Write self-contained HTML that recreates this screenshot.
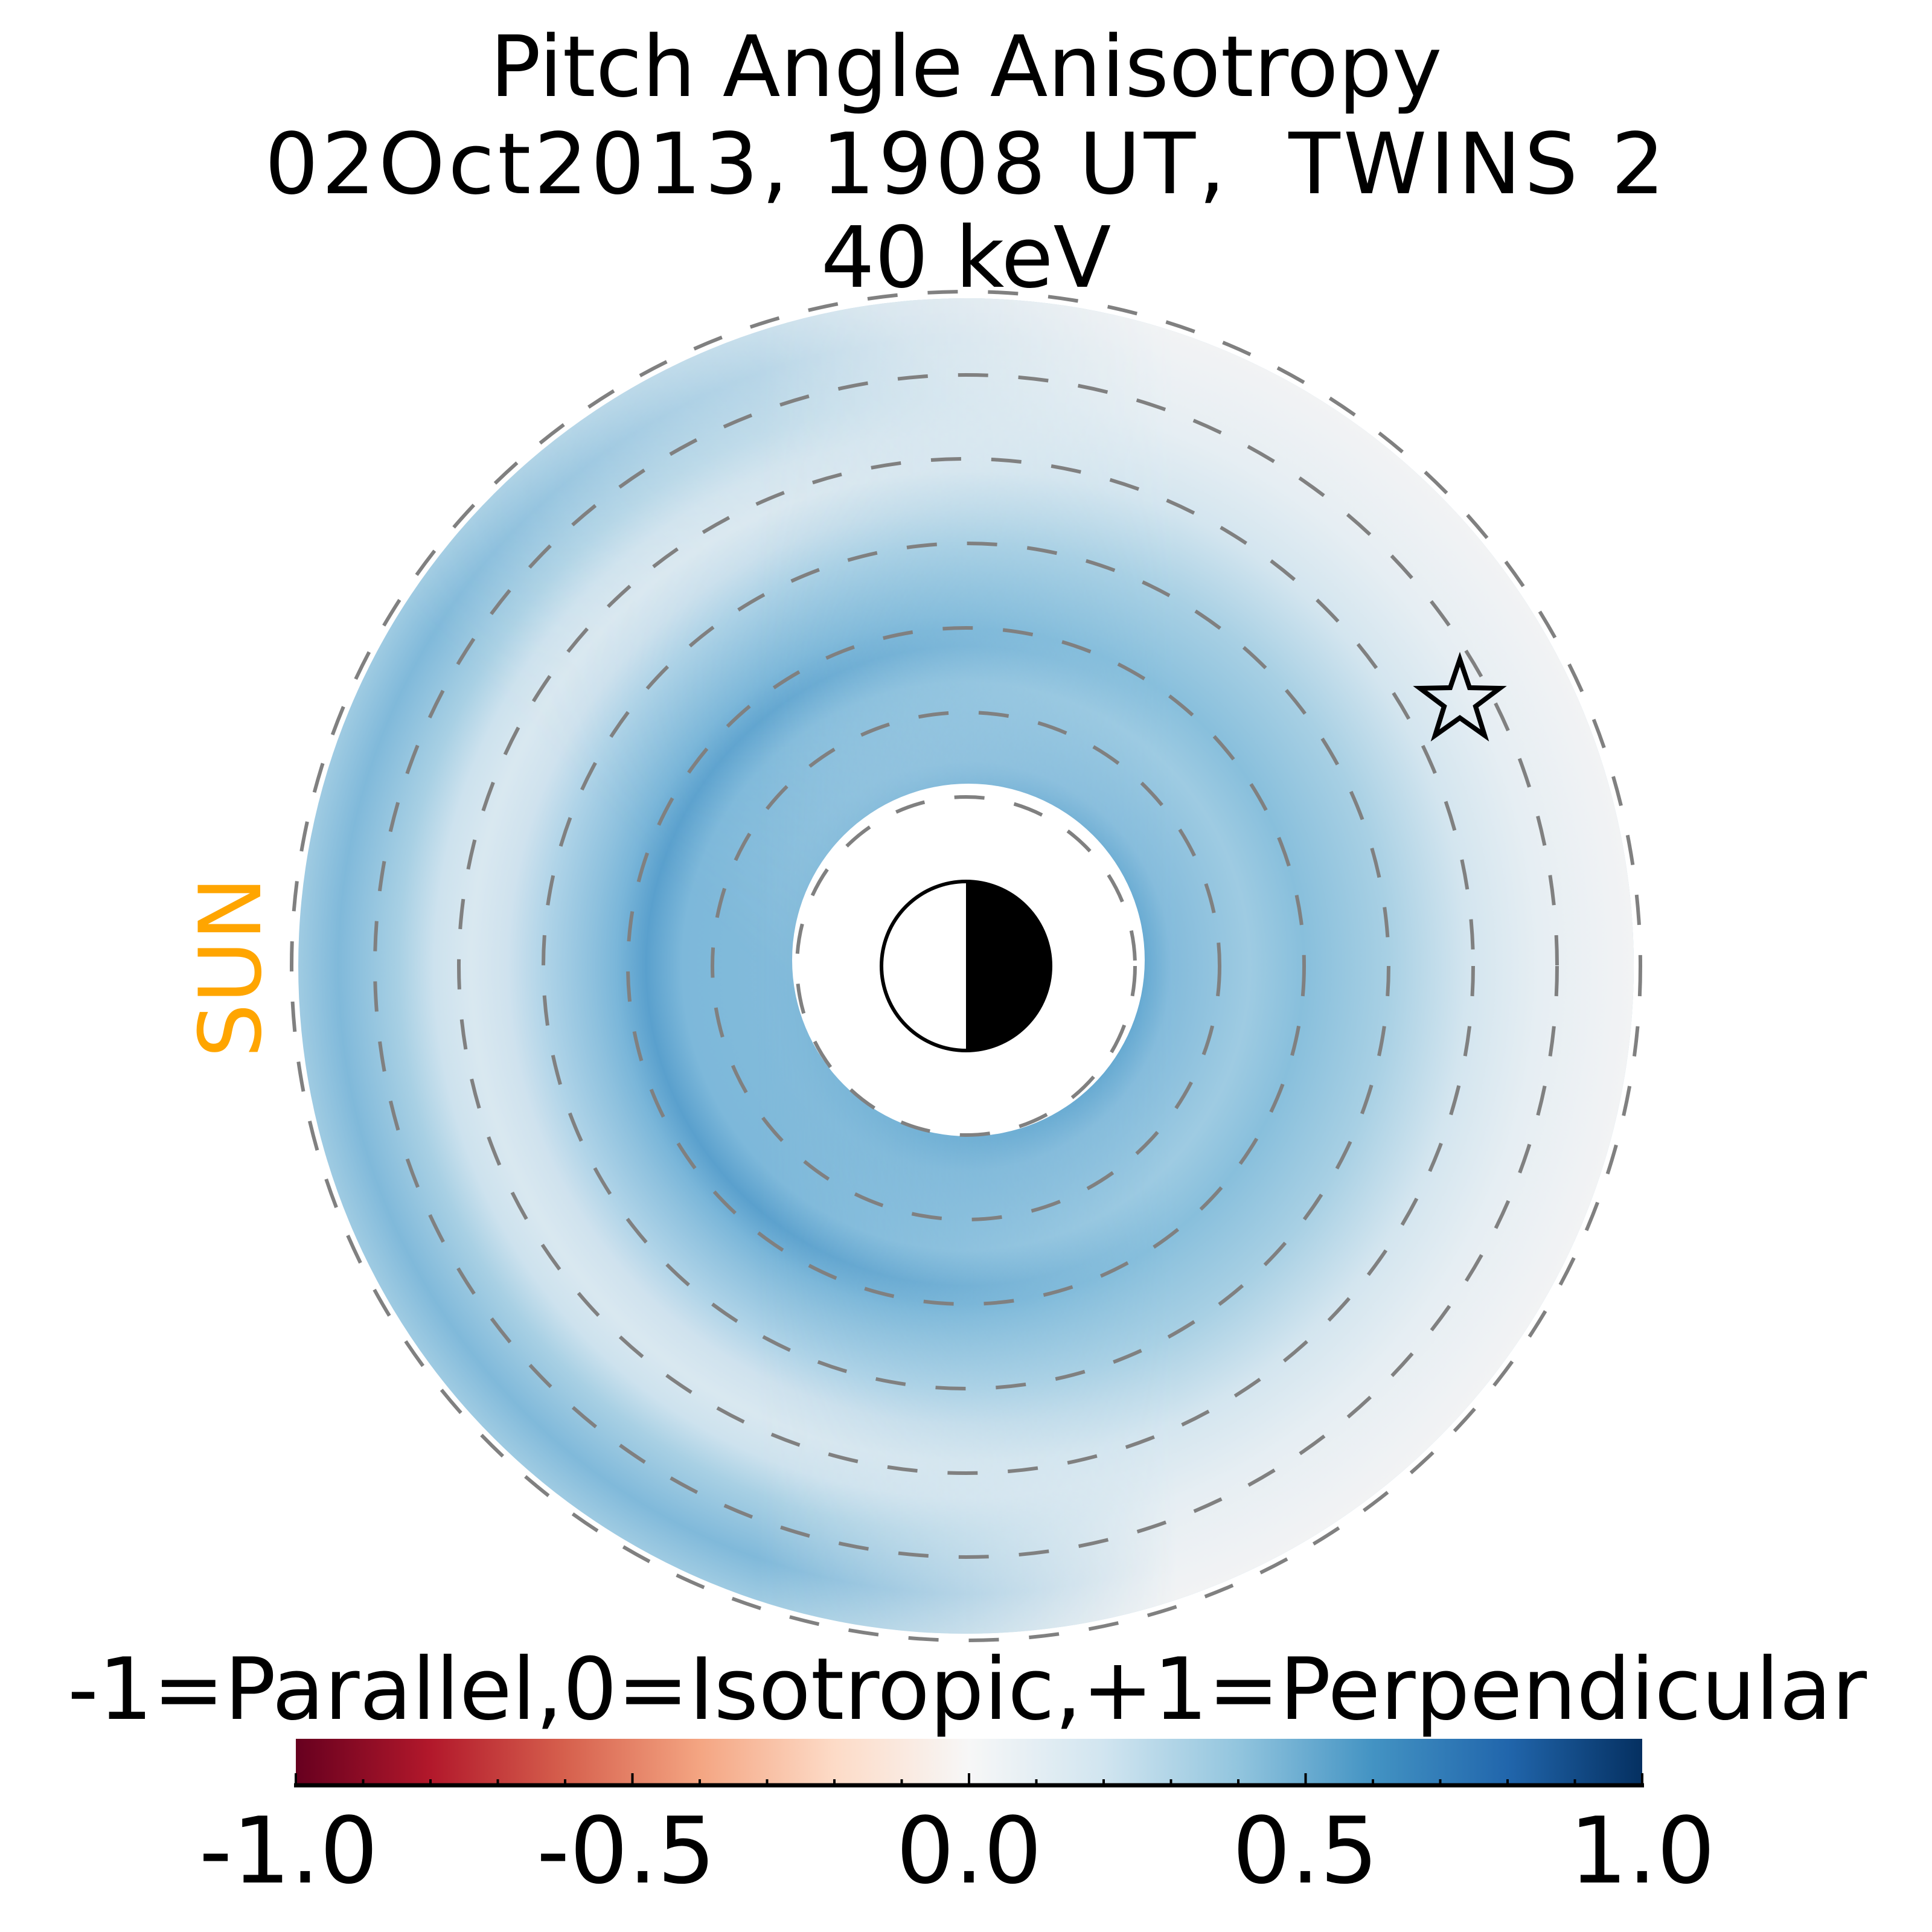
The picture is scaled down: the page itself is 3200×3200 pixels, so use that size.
<!DOCTYPE html>
<html><head><meta charset="utf-8"><style>html,body{margin:0;padding:0;background:#fff}svg{display:block}</style></head>
<body>
<svg width="3200" height="3200" viewBox="0 0 3200 3200" xmlns="http://www.w3.org/2000/svg">
<defs>
<radialGradient id="gL" gradientUnits="userSpaceOnUse" cx="1600" cy="1600" r="1106">
<stop offset="0" stop-color="#84bcdb"/><stop offset="0.262" stop-color="#84bcdb"/>
<stop offset="0.425" stop-color="#7db8da"/><stop offset="0.479" stop-color="#5aa0cd"/>
<stop offset="0.524" stop-color="#7ab6d9"/><stop offset="0.561" stop-color="#8ec1de"/>
<stop offset="0.633" stop-color="#b0d4e8"/><stop offset="0.687" stop-color="#cfe2ee"/>
<stop offset="0.741" stop-color="#d9e8f0"/><stop offset="0.796" stop-color="#cde2ee"/>
<stop offset="0.850" stop-color="#a8d0e4"/><stop offset="0.940" stop-color="#80b9da"/>
<stop offset="1" stop-color="#9fcbe2"/></radialGradient>
<radialGradient id="gR" gradientUnits="userSpaceOnUse" cx="1600" cy="1600" r="1106">
<stop offset="0" stop-color="#5fa5cf"/><stop offset="0.262" stop-color="#5fa5cf"/>
<stop offset="0.307" stop-color="#84bbdb"/><stop offset="0.425" stop-color="#9ecbe2"/>
<stop offset="0.506" stop-color="#88bfdc"/><stop offset="0.633" stop-color="#a8d0e4"/>
<stop offset="0.750" stop-color="#d3e5ef"/><stop offset="0.859" stop-color="#e6eef3"/>
<stop offset="1" stop-color="#f2f3f4"/></radialGradient>
<radialGradient id="gT" gradientUnits="userSpaceOnUse" cx="1600" cy="1600" r="1106">
<stop offset="0" stop-color="#c6dfed"/><stop offset="0.29" stop-color="#c6dfed"/>
<stop offset="0.398" stop-color="#a5cee4"/><stop offset="0.479" stop-color="#7cb7d9"/>
<stop offset="0.561" stop-color="#8fc2de"/><stop offset="0.633" stop-color="#a9d0e4"/>
<stop offset="0.741" stop-color="#dde9f0"/><stop offset="0.859" stop-color="#d6e6ef"/>
<stop offset="1" stop-color="#dfeaf1"/></radialGradient>
<linearGradient id="mRg" gradientUnits="userSpaceOnUse" x1="1250" y1="0" x2="1950" y2="0">
<stop offset="0" stop-color="#000"/><stop offset="1" stop-color="#fff"/></linearGradient>
<linearGradient id="mTg" gradientUnits="userSpaceOnUse" x1="1150" y1="1500" x2="1800" y2="850">
<stop offset="0" stop-color="#000"/><stop offset="1" stop-color="#ccc"/></linearGradient>
<mask id="mR"><rect width="3200" height="3200" fill="url(#mRg)"/></mask>
<mask id="mT"><rect width="3200" height="3200" fill="url(#mTg)"/></mask>
<linearGradient id="cb" x1="0" y1="0" x2="1" y2="0">
<stop offset="0" stop-color="#67001f"/><stop offset="0.1" stop-color="#b2182b"/>
<stop offset="0.2" stop-color="#d6604d"/><stop offset="0.3" stop-color="#f4a582"/>
<stop offset="0.4" stop-color="#fddbc7"/><stop offset="0.5" stop-color="#f7f7f7"/>
<stop offset="0.6" stop-color="#d1e5f0"/><stop offset="0.7" stop-color="#92c5de"/>
<stop offset="0.8" stop-color="#4393c3"/><stop offset="0.9" stop-color="#2166ac"/>
<stop offset="1" stop-color="#053061"/></linearGradient>
</defs>

<g font-family="DejaVu Sans, Liberation Sans, sans-serif" text-anchor="middle" fill="#000">
<text x="1600" y="159" font-size="140">Pitch Angle Anisotropy</text>
<text x="1598" y="320" font-size="140" textLength="2319" lengthAdjust="spacing">02Oct2013, 1908 UT,&#160; TWINS 2</text>
<text x="1600" y="475" font-size="140">40 keV</text>
</g>

<circle cx="1600" cy="1600" r="1106" fill="url(#gL)"/>
<circle cx="1600" cy="1600" r="1106" fill="url(#gT)" mask="url(#mT)"/>
<circle cx="1600" cy="1600" r="1106" fill="url(#gR)" mask="url(#mR)"/>
<circle cx="1604" cy="1590" r="292" fill="#fff"/>

<g fill="none" stroke="#808080" stroke-width="6" stroke-dasharray="50 50">
<circle cx="1600" cy="1600" r="280"/>
<circle cx="1600" cy="1600" r="420"/>
<circle cx="1600" cy="1600" r="560"/>
<circle cx="1600" cy="1600" r="700"/>
<circle cx="1600" cy="1600" r="840"/>
<circle cx="1600" cy="1600" r="979"/>
<circle cx="1600" cy="1600" r="1117"/>
</g>

<path d="M1600,1458 A142,142 0 0 1 1600,1742 Z" fill="#000"/>
<circle cx="1600" cy="1600" r="140" fill="none" stroke="#000" stroke-width="6"/>

<polygon points="2418,1092 2434,1139 2484,1140 2444,1170 2459,1218 2418,1189 2377,1218 2392,1170 2352,1140 2402,1139" fill="none" stroke="#000" stroke-width="8" stroke-linejoin="miter"/>

<text x="0" y="0" transform="translate(431,1602) rotate(-90)" font-family="DejaVu Sans, Liberation Sans, sans-serif" font-size="142" fill="#ffa500" text-anchor="middle">SUN</text>

<text x="1602" y="2847" font-family="DejaVu Sans, Liberation Sans, sans-serif" font-size="142" text-anchor="middle" textLength="2980" lengthAdjust="spacingAndGlyphs">-1=Parallel,0=Isotropic,+1=Perpendicular</text>

<rect x="490" y="2880" width="2230" height="77" fill="url(#cb)"/>
<line x1="487" y1="2957" x2="2723" y2="2957" stroke="#000" stroke-width="7"/>
<g stroke="#000" stroke-width="4">
<line x1="490" y1="2957" x2="490" y2="2937"/><line x1="1047.5" y1="2957" x2="1047.5" y2="2937"/>
<line x1="1605" y1="2957" x2="1605" y2="2937"/><line x1="2162.5" y1="2957" x2="2162.5" y2="2937"/>
<line x1="2720" y1="2957" x2="2720" y2="2937"/>
<line x1="601.5" y1="2957" x2="601.5" y2="2947"/><line x1="713" y1="2957" x2="713" y2="2947"/>
<line x1="824.5" y1="2957" x2="824.5" y2="2947"/><line x1="936" y1="2957" x2="936" y2="2947"/>
<line x1="1159" y1="2957" x2="1159" y2="2947"/><line x1="1270.5" y1="2957" x2="1270.5" y2="2947"/>
<line x1="1382" y1="2957" x2="1382" y2="2947"/><line x1="1493.5" y1="2957" x2="1493.5" y2="2947"/>
<line x1="1716.5" y1="2957" x2="1716.5" y2="2947"/><line x1="1828" y1="2957" x2="1828" y2="2947"/>
<line x1="1939.5" y1="2957" x2="1939.5" y2="2947"/><line x1="2051" y1="2957" x2="2051" y2="2947"/>
<line x1="2274" y1="2957" x2="2274" y2="2947"/><line x1="2385.5" y1="2957" x2="2385.5" y2="2947"/>
<line x1="2497" y1="2957" x2="2497" y2="2947"/><line x1="2608.5" y1="2957" x2="2608.5" y2="2947"/>
</g>
<g font-family="DejaVu Sans, Liberation Sans, sans-serif" font-size="152" text-anchor="middle" fill="#000">
<text x="478" y="3118">-1.0</text>
<text x="1037" y="3118">-0.5</text>
<text x="1605" y="3118">0.0</text>
<text x="2162" y="3118">0.5</text>
<text x="2720" y="3118">1.0</text>
</g>
</svg>
</body></html>
